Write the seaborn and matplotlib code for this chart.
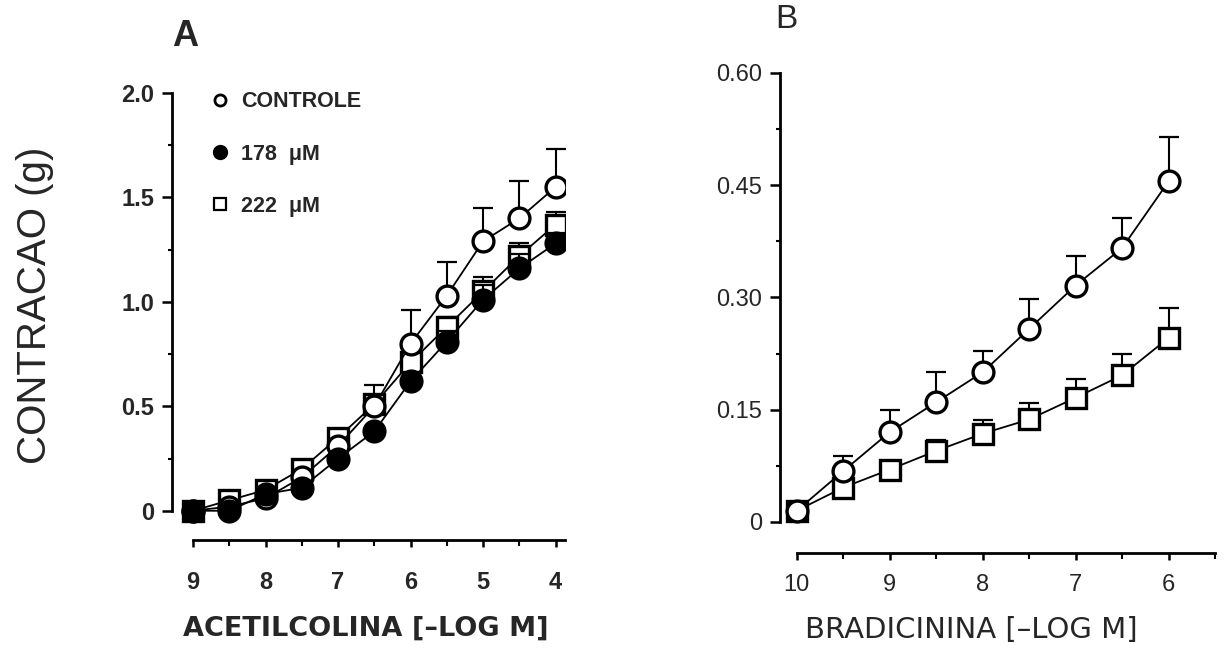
import numpy as np
import pandas as pd
import matplotlib
matplotlib.use("Agg")
import matplotlib.pyplot as plt
from matplotlib.lines import Line2D
from matplotlib.ticker import FixedLocator, MultipleLocator
import seaborn as sns

# ---------------- data ----------------
ach_logm = [9, 8.5, 8, 7.5, 7, 6.5, 6, 5.5, 5, 4.5, 4]
ach_controle = [0.0, 0.02, 0.06, 0.16, 0.31, 0.50, 0.80, 1.03, 1.29, 1.40, 1.55]
ach_controle_sem = [0.0, 0.0, 0.01, 0.01, 0.02, 0.10, 0.16, 0.16, 0.16, 0.18, 0.18]
ach_178 = [0.0, 0.0, 0.08, 0.11, 0.25, 0.38, 0.62, 0.81, 1.01, 1.16, 1.28]
ach_178_sem = [0.0, 0.0, 0.01, 0.01, 0.02, 0.02, 0.04, 0.05, 0.07, 0.07, 0.05]
ach_222 = [0.0, 0.05, 0.10, 0.20, 0.35, 0.51, 0.71, 0.88, 1.05, 1.22, 1.37]
ach_222_sem = [0.0, 0.01, 0.01, 0.01, 0.01, 0.04, 0.05, 0.05, 0.07, 0.06, 0.06]

bk_logm = [10, 9.5, 9, 8.5, 8, 7.5, 7, 6.5, 6]
bk_controle = [0.015, 0.068, 0.12, 0.16, 0.20, 0.258, 0.316, 0.366, 0.455]
bk_controle_sem = [0.003, 0.02, 0.03, 0.04, 0.028, 0.04, 0.04, 0.04, 0.06]
bk_222 = [0.015, 0.046, 0.07, 0.095, 0.118, 0.137, 0.166, 0.196, 0.246]
bk_222_sem = [0.003, 0.003, 0.005, 0.015, 0.018, 0.022, 0.025, 0.028, 0.04]

legend_labels = ["CONTROLE", "178  \u03bcM", "222  \u03bcM"]
a_yticks = [0, 0.5, 1.0, 1.5, 2.0]
a_yticklabels = ["0", "0.5", "1.0", "1.5", "2.0"]
a_xticks = [9, 8, 7, 6, 5, 4]
b_yticks = [0, 0.15, 0.30, 0.45, 0.60]
b_yticklabels = ["0", "0.15", "0.30", "0.45", "0.60"]
b_xticks = [10, 9, 8, 7, 6]

# ---------------- style ----------------
sns.set_theme(style="ticks")
plt.rcParams['font.family'] = ['Liberation Sans', 'DejaVu Sans']

W, H = 1229, 650
fig = plt.figure(figsize=(W / 100, H / 100), dpi=100)
fig.patch.set_facecolor("white")

axA = fig.add_axes([172 / W, 1 - 540 / H, (565 - 172) / W, (540 - 93) / H])
axB = fig.add_axes([780 / W, 1 - 553 / H, (1215 - 780) / W, (553 - 73) / H])

MS = 15
MEW = 2.4
LW = 1.3

def series(ax, x, y, err, marker, face, z):
    df = pd.DataFrame({"x": x, "y": y})
    ax.errorbar(x, y, yerr=[np.zeros(len(err)), err], fmt="none", ecolor="black",
                elinewidth=1.5, capsize=7, capthick=1.6, zorder=z - 0.5)
    sns.lineplot(data=df, x="x", y="y", ax=ax, color="black", linewidth=LW,
                 marker=marker, markersize=MS, markerfacecolor=face,
                 markeredgecolor="black", markeredgewidth=MEW, zorder=z,
                 estimator=None, sort=False, legend=False)

# Panel A
series(axA, ach_logm, ach_222, ach_222_sem, "s", "white", 3)
series(axA, ach_logm, ach_controle, ach_controle_sem, "o", "white", 4)
series(axA, ach_logm, ach_178, ach_178_sem, "o", "black", 5)

axA.set_xlim(9.29, 3.87)
axA.set_ylim(-0.14, 2.0)

# Panel B
series(axB, bk_logm, bk_222, bk_222_sem, "s", "white", 3)
series(axB, bk_logm, bk_controle, bk_controle_sem, "o", "white", 4)

axB.set_xlim(10.18, 5.5)
axB.set_ylim(-0.0415, 0.60)

for ax, yt, ytl, xt, xlo, xhi, ytop, wt, xpad in [
    (axA, a_yticks, a_yticklabels, a_xticks, 9, 3.87, 2.0, "bold", 17),
    (axB, b_yticks, b_yticklabels, b_xticks, 10, 5.5, 0.60, "normal", 10),
]:
    ax.set_facecolor("white")
    ax.grid(False)
    for s in ["top", "right"]:
        ax.spines[s].set_visible(False)
    ax.spines["left"].set_bounds(0, ytop)
    ax.spines["bottom"].set_bounds(xlo, xhi)
    ax.spines["left"].set_linewidth(2.0)
    ax.spines["bottom"].set_linewidth(2.0)
    ax.spines["left"].set_color("black")
    ax.spines["bottom"].set_color("black")
    ax.set_yticks(yt)
    ax.set_yticklabels(ytl, fontsize=17, fontweight=wt)
    ax.yaxis.set_minor_locator(FixedLocator([v + (yt[1] - yt[0]) / 2 for v in yt[:-1]]))
    ax.set_xticks(xt)
    ax.set_xticklabels([str(v) for v in xt], fontsize=17, fontweight=wt)
    ax.xaxis.set_minor_locator(MultipleLocator(0.5))
    ax.tick_params(axis="y", which="major", length=7, width=1.8, pad=6, color="black", direction="out")
    ax.tick_params(axis="y", which="minor", length=3, width=1.5, color="black", direction="out")
    ax.tick_params(axis="x", which="major", length=5, width=1.8, pad=xpad, color="black", direction="out")
    ax.tick_params(axis="x", which="minor", length=4, width=1.5, color="black", direction="out")
    ax.set_xlabel("")
    ax.set_ylabel("")

# legend in A
handles = [
    Line2D([], [], linestyle="none", marker="o", markersize=8, markerfacecolor="white",
           markeredgecolor="black", markeredgewidth=2),
    Line2D([], [], linestyle="none", marker="o", markersize=10, markerfacecolor="black",
           markeredgecolor="black"),
    Line2D([], [], linestyle="none", marker="s", markersize=9, markerfacecolor="white",
           markeredgecolor="black", markeredgewidth=1.6),
]
leg = axA.legend(handles, legend_labels, loc="upper left", bbox_to_anchor=(0.05, 1.047),
                 frameon=False, handlelength=0.8, handletextpad=0.6, labelspacing=1.45,
                 prop={"size": 15.5, "weight": "bold"})

# axis titles / labels
fig.text(35 / W, 1 - 305 / H, "CONTRACAO (g)", rotation=90, ha="center", va="center",
         fontsize=29)
fig.text(183 / W, 1 - 629 / H, "ACETILCOLINA [\u2013LOG M]", ha="left", va="center",
         fontsize=19.5, fontweight="bold", family=["DejaVu Sans"])
fig.text(805 / W, 1 - 630 / H, "BRADICININA [\u2013LOG M]", ha="left", va="center",
         fontsize=21, family=["DejaVu Sans"])
fig.text(185 / W, 1 - 37 / H, "A", ha="center", va="center", fontsize=26, fontweight="bold")
fig.text(786 / W, 1 - 20 / H, "B", ha="center", va="center", fontsize=24)

fig.savefig("out.png", dpi=100, facecolor="white")
